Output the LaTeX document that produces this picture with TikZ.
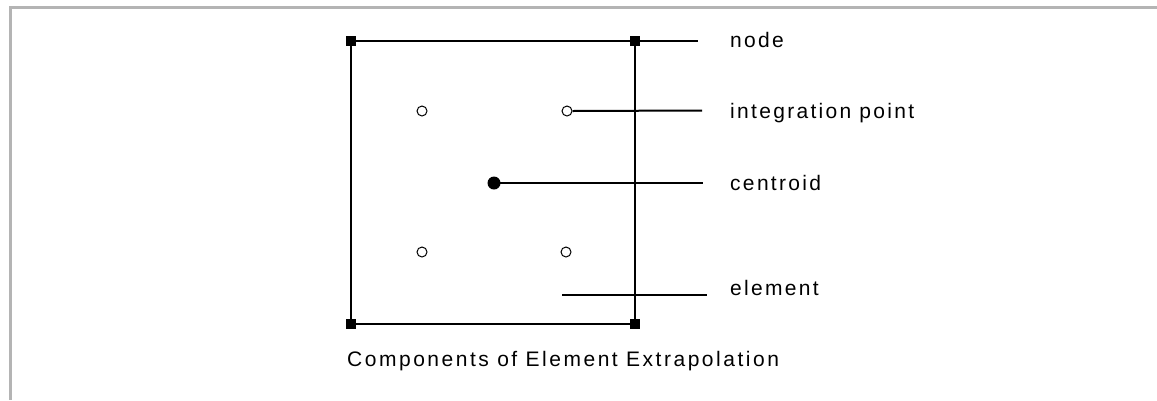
\documentclass[tikz,border=0pt]{standalone}
\usepackage{fontspec}
\setmainfont{Liberation Sans}
\newfontfamily\lblfont{Liberation Sans}[LetterSpace=11]
\newfontfamily\capfont{Liberation Sans}[LetterSpace=12]
\begin{document}
\begin{tikzpicture}[x=1pt,y=-1pt,
  edge/.style={line width=2pt, black},
  frameline/.style={line width=2.5pt, color={rgb,255:red,180;green,180;blue,180}},
  nodemark/.style={rectangle, fill=black, inner sep=0pt, minimum size=10pt},
  ipmark/.style={circle, draw=black, fill=white, line width=1pt, inner sep=0pt, minimum size=10pt},
  cmark/.style={circle, fill=black, inner sep=0pt, minimum size=13pt},
  lbl/.style={anchor=base west, inner sep=0pt, font=\lblfont\fontsize{21pt}{24pt}\selectfont},
  caplbl/.style={anchor=base west, inner sep=0pt, font=\capfont\fontsize{21pt}{24pt}\selectfont}
]
\useasboundingbox (0,0) rectangle (1157,400);
\fill[white] (0,0) rectangle (1157,400);
% frame
\coordinate (f1) at (10.5,400);
\coordinate (f2) at (10.5,7.5);
\coordinate (f3) at (1157,7.5);
\draw[frameline] (f1) -- (f2) -- (f3);
% element square
\node[nodemark] (n1) at (351,41) {};
\node[nodemark] (n2) at (635,41) {};
\node[nodemark] (n3) at (635,324) {};
\node[nodemark] (n4) at (351,324) {};
\draw[edge] (n1.center) -- (n2.center) -- (n3.center) -- (n4.center) -- cycle;
% integration points
\node[ipmark] (ip1) at (422,111) {};
\node[ipmark] (ip2) at (567,111) {};
\node[ipmark] (ip3) at (422,252) {};
\node[ipmark] (ip4) at (566,252) {};
% centroid
\node[cmark] (c) at (494,183) {};
% leader ends
\coordinate (lnode) at (698,41);
\coordinate (lip) at (702,110.5);
\coordinate (lc) at (703,183);
\coordinate (le0) at (562,295);
\coordinate (le) at (707,295);
\draw[edge] (n2.center) -- (lnode);
\draw[edge] (ip2.east) -- (lip);
\draw[edge] (c.center) -- (lc);
\draw[edge] (le0) -- (le);
% labels
\node[lbl] (tnode) at (730,47.3) {node};
\node[lbl] (tip) at (730,118.5) {integration point};
\node[lbl] (tc) at (730,190.5) {centroid};
\node[lbl] (te) at (730,295) {element};
\node[caplbl] (cap) at (347,366) {Components of Element Extrapolation};
\end{tikzpicture}
\end{document}
